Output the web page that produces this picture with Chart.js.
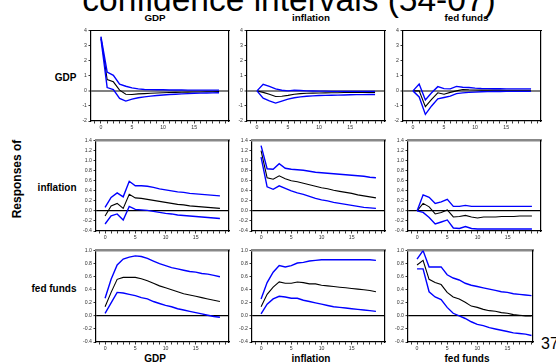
<!DOCTYPE html>
<html><head><meta charset="utf-8">
<script src="https://cdn.jsdelivr.net/npm/chart.js@4.4.1/dist/chart.umd.min.js"></script>
<style>
html,body{margin:0;padding:0;background:#fff;}
body{width:556px;height:363px;position:relative;overflow:hidden;font-family:"Liberation Sans",Arial,sans-serif;}
canvas{position:absolute;}
.t{position:absolute;white-space:nowrap;line-height:1;color:#000;}
.b{font-weight:bold;}
.c{transform:translate(-50%,-50%);}
</style></head><body>
<div class="t" style="left:289px;top:-17px;font-size:33.5px;transform:translateX(-50%);line-height:33.5px;">confidence intervals (54-07)</div>
<div class="t b c" style="left:155px;top:17.5px;font-size:9.8px;">GDP</div>
<div class="t b c" style="left:311px;top:17.5px;font-size:9.8px;">inflation</div>
<div class="t b c" style="left:466.5px;top:17.5px;font-size:9.8px;">fed funds</div>
<div class="t b" style="right:479.5px;top:78px;font-size:10px;transform:translateY(-50%);">GDP</div>
<div class="t b" style="right:479.5px;top:188px;font-size:10px;transform:translateY(-50%);">inflation</div>
<div class="t b" style="right:479.5px;top:289px;font-size:10px;transform:translateY(-50%);">fed funds</div>
<div class="t b" style="left:16.5px;top:179px;font-size:12px;transform:translate(-50%,-50%) rotate(-90deg);">Responses of</div>
<div class="t b c" style="left:155px;top:359px;font-size:10px;">GDP</div>
<div class="t b c" style="left:311px;top:359px;font-size:10px;">inflation</div>
<div class="t b c" style="left:467px;top:359px;font-size:10px;">fed funds</div>
<div class="t" style="left:541px;top:344px;font-size:16px;transform:translateY(-50%);">37</div>
<script>
// ---- data ----
const horizons = [0,1,2,3,4,5,6,7,8,9,10,11,12,13,14,15,16,17,18,19];
const shockNames = ["GDP","inflation","fed funds"];
const responseNames = ["GDP","inflation","fed funds"];
const xTickLabels = [0,5,10,15];
const xMinorTicks = [-1,0,1,2,3,4,5,6,7,8,9,10,11,12,13,14,15,16,17,18,19,20];
const yTicksGDP = [-2,-1,0,1,2,3,4];
const yTicksInflation = [-0.4,-0.2,0,0.2,0.4,0.6,0.8,1.0,1.2,1.4];
const yTicksFedFunds = [-0.4,-0.2,0,0.2,0.4,0.6,0.8,1.0];

// response of GDP
const gdp_to_gdp_mid = [3.55,0.75,0.6,0.05,-0.22,-0.24,-0.2,-0.18,-0.16,-0.14,-0.12,-0.11,-0.1,-0.09,-0.08,-0.07,-0.07,-0.06,-0.06,-0.05];
const gdp_to_gdp_up  = [3.6,1.25,1.03,0.44,0.31,0.2,0.13,0.09,0.08,0.07,0.07,0.06,0.06,0.06,0.05,0.05,0.05,0.05,0.05,0.05];
const gdp_to_gdp_lo  = [3.45,0.22,0.09,-0.5,-0.68,-0.55,-0.46,-0.4,-0.35,-0.31,-0.27,-0.24,-0.22,-0.2,-0.18,-0.16,-0.15,-0.14,-0.13,-0.12];
const gdp_to_inf_mid = [0,-0.1,-0.22,-0.37,-0.36,-0.3,-0.22,-0.18,-0.16,-0.15,-0.14,-0.13,-0.12,-0.12,-0.11,-0.11,-0.1,-0.1,-0.1,-0.1];
const gdp_to_inf_up  = [0,0.44,0.3,0.13,0.04,0.0,0.04,0.02,0.0,-0.01,-0.02,-0.02,-0.03,-0.03,-0.03,-0.03,-0.03,-0.03,-0.03,-0.03];
const gdp_to_inf_lo  = [0,-0.48,-0.66,-0.81,-0.68,-0.55,-0.46,-0.4,-0.36,-0.33,-0.31,-0.3,-0.29,-0.28,-0.27,-0.26,-0.25,-0.25,-0.24,-0.24];
const gdp_to_ff_mid  = [0,0,-1.05,-0.57,-0.13,-0.22,-0.1,0,0.09,0.07,0.06,0.05,0.05,0.05,0.05,0.04,0.04,0.04,0.04,0.04];
const gdp_to_ff_up   = [0,0.46,-0.6,-0.13,0.28,0.15,0.13,0.3,0.24,0.22,0.18,0.16,0.15,0.14,0.14,0.13,0.13,0.13,0.13,0.13];
const gdp_to_ff_lo   = [0,-0.4,-1.56,-1.0,-0.53,-0.44,-0.35,-0.18,-0.13,-0.1,-0.08,-0.06,-0.05,-0.04,-0.04,-0.03,-0.03,-0.03,-0.03,-0.03];
// response of inflation
const inf_to_gdp_mid = [-0.1,0.1,0.15,0.05,0.33,0.26,0.25,0.23,0.21,0.19,0.17,0.15,0.13,0.12,0.1,0.09,0.08,0.07,0.06,0.05];
const inf_to_gdp_up  = [0.07,0.27,0.36,0.28,0.59,0.5,0.5,0.49,0.47,0.44,0.42,0.4,0.38,0.37,0.35,0.34,0.33,0.32,0.31,0.3];
const inf_to_gdp_lo  = [-0.26,-0.1,-0.06,-0.18,0.09,0.03,0.02,0.01,-0.01,-0.03,-0.05,-0.06,-0.08,-0.09,-0.1,-0.11,-0.12,-0.13,-0.14,-0.15];
const inf_to_inf_mid = [1.2,0.66,0.63,0.7,0.64,0.6,0.58,0.55,0.52,0.49,0.46,0.44,0.41,0.39,0.37,0.35,0.32,0.3,0.28,0.26];
const inf_to_inf_up  = [1.3,0.84,0.83,0.94,0.85,0.83,0.82,0.81,0.79,0.77,0.76,0.75,0.74,0.73,0.72,0.71,0.7,0.69,0.67,0.66];
const inf_to_inf_lo  = [1.07,0.48,0.43,0.5,0.45,0.4,0.36,0.33,0.29,0.25,0.22,0.2,0.17,0.15,0.13,0.11,0.09,0.07,0.06,0.05];
const inf_to_ff_mid  = [0,0.15,0.08,-0.06,-0.03,0.02,-0.12,-0.11,-0.09,-0.12,-0.14,-0.12,-0.12,-0.12,-0.11,-0.11,-0.11,-0.1,-0.1,-0.1];
const inf_to_ff_up   = [0,0.32,0.27,0.15,0.18,0.23,0.09,0.09,0.11,0.09,0.09,0.09,0.09,0.09,0.09,0.09,0.09,0.09,0.09,0.09];
const inf_to_ff_lo   = [0,-0.03,-0.13,-0.26,-0.22,-0.18,-0.34,-0.35,-0.31,-0.35,-0.36,-0.36,-0.36,-0.36,-0.36,-0.36,-0.36,-0.36,-0.36,-0.36];
// response of fed funds
const ff_to_gdp_mid  = [0.14,0.36,0.56,0.59,0.59,0.59,0.57,0.54,0.5,0.46,0.43,0.4,0.37,0.34,0.32,0.3,0.28,0.26,0.24,0.22];
const ff_to_gdp_up   = [0.27,0.56,0.78,0.87,0.9,0.92,0.91,0.88,0.84,0.8,0.77,0.74,0.72,0.7,0.68,0.67,0.65,0.64,0.62,0.6];
const ff_to_gdp_lo   = [0.04,0.2,0.36,0.35,0.33,0.31,0.28,0.26,0.22,0.19,0.16,0.14,0.11,0.09,0.07,0.05,0.03,0.01,-0.01,-0.02];
const ff_to_inf_mid  = [0.14,0.33,0.44,0.52,0.5,0.5,0.52,0.51,0.49,0.49,0.47,0.46,0.45,0.44,0.43,0.42,0.41,0.4,0.39,0.37];
const ff_to_inf_up   = [0.26,0.51,0.67,0.77,0.75,0.77,0.81,0.82,0.84,0.85,0.86,0.86,0.86,0.86,0.86,0.86,0.86,0.86,0.86,0.85];
const ff_to_inf_lo   = [0.03,0.18,0.26,0.3,0.29,0.27,0.27,0.24,0.22,0.2,0.18,0.16,0.14,0.13,0.12,0.11,0.1,0.09,0.08,0.07];
const ff_to_ff_mid   = [0.78,0.85,0.56,0.51,0.48,0.36,0.29,0.26,0.21,0.15,0.13,0.1,0.08,0.07,0.05,0.04,0.02,0.01,0.0,0.0];
const ff_to_ff_up    = [0.87,1.0,0.75,0.75,0.75,0.63,0.58,0.55,0.5,0.47,0.45,0.43,0.41,0.39,0.37,0.36,0.34,0.33,0.32,0.31];
const ff_to_ff_lo    = [0.72,0.72,0.37,0.29,0.25,0.13,0.04,0.0,-0.04,-0.09,-0.13,-0.15,-0.18,-0.2,-0.22,-0.24,-0.26,-0.27,-0.28,-0.3];

// ---- layout (plot frame in page pixels) ----
const panels = [
  {L:91,R:229,T:30,B:121,ymin:-2,ymax:4,xmin:-1.6,xmax:20.6,yt:yTicksGDP,dec:0,zc:'#808080',zw:2,tc:'#000',tw:1,s:[gdp_to_gdp_mid,gdp_to_gdp_up,gdp_to_gdp_lo]},
  {L:247,R:385,T:30,B:121,ymin:-2,ymax:4,xmin:-1.6,xmax:20.6,yt:yTicksGDP,dec:0,zc:'#808080',zw:2,tc:'#000',tw:1,s:[gdp_to_inf_mid,gdp_to_inf_up,gdp_to_inf_lo]},
  {L:403,R:541,T:30,B:121,ymin:-2,ymax:4,xmin:-1.6,xmax:20.6,yt:yTicksGDP,dec:0,zc:'#808080',zw:2,tc:'#000',tw:1,s:[gdp_to_ff_mid,gdp_to_ff_up,gdp_to_ff_lo]},
  {L:95.7,R:229,T:140,B:231,ymin:-0.4,ymax:1.4,xmin:-1.5,xmax:20.5,yt:yTicksInflation,dec:1,zc:'#000',zw:1.2,tc:'#888',tw:2.5,s:[inf_to_gdp_mid,inf_to_gdp_up,inf_to_gdp_lo]},
  {L:251.7,R:385,T:140,B:231,ymin:-0.4,ymax:1.4,xmin:-1.5,xmax:20.5,yt:yTicksInflation,dec:1,zc:'#000',zw:1.2,tc:'#888',tw:2.5,s:[inf_to_inf_mid,inf_to_inf_up,inf_to_inf_lo]},
  {L:407.7,R:541,T:140,B:231,ymin:-0.4,ymax:1.4,xmin:-1.5,xmax:20.5,yt:yTicksInflation,dec:1,zc:'#000',zw:1.2,tc:'#888',tw:2.5,s:[inf_to_ff_mid,inf_to_ff_up,inf_to_ff_lo]},
  {L:95.7,R:229,T:250,B:342,ymin:-0.4,ymax:1.0,xmin:-1.5,xmax:20.5,yt:yTicksFedFunds,dec:1,zc:'#000',zw:1.2,tc:'#888',tw:2.5,s:[ff_to_gdp_mid,ff_to_gdp_up,ff_to_gdp_lo]},
  {L:251.7,R:385,T:250,B:342,ymin:-0.4,ymax:1.0,xmin:-1.5,xmax:20.5,yt:yTicksFedFunds,dec:1,zc:'#000',zw:1.2,tc:'#888',tw:2.5,s:[ff_to_inf_mid,ff_to_inf_up,ff_to_inf_lo]},
  {L:407.7,R:533,T:250,B:342,ymin:-0.4,ymax:1.0,xmin:-1.5,xmax:19.25,yt:yTicksFedFunds,dec:1,zc:'#000',zw:1.2,tc:'#888',tw:2.5,s:[ff_to_ff_mid,ff_to_ff_up,ff_to_ff_lo]}
];

const YW = 16, XH = 14, PT = 4, PR = 4;
const tickFont = {family:'"Liberation Sans", Arial, sans-serif', size:5.2};

panels.forEach((p) => {
  const cv = document.createElement('canvas');
  const w = Math.round(p.R - p.L + YW + PR), h = Math.round(p.B - p.T + PT + XH);
  cv.width = w; cv.height = h;
  cv.style.width = w + 'px'; cv.style.height = h + 'px';
  cv.style.left = (p.L - YW) + 'px'; cv.style.top = (p.T - PT) + 'px';
  document.body.appendChild(cv);
  const mk = (arr) => horizons.map((t, i) => ({x: t, y: arr[i]}));
  new Chart(cv, {
    type: 'line',
    data: {datasets: [
      {data: mk(p.s[1]), borderColor:'#0000ff', borderWidth:1.4},
      {data: mk(p.s[2]), borderColor:'#0000ff', borderWidth:1.4},
      {data: mk(p.s[0]), borderColor:'#000000', borderWidth:1.1}
    ]},
    options: {
      responsive:false, animation:false, devicePixelRatio:1,
      layout:{padding:{top:PT,right:PR,left:0,bottom:0}},
      plugins:{legend:{display:false}, tooltip:{enabled:false}},
      elements:{point:{radius:0}, line:{tension:0, fill:false}},
      scales:{
        x:{type:'linear', position:'bottom', min:p.xmin, max:p.xmax,
          afterBuildTicks:(s)=>{s.ticks = xMinorTicks.filter(v=>v>=p.xmin&&v<=p.xmax).map(v=>({value:v}));},
          afterFit:(s)=>{s.height = XH;},
          ticks:{autoSkip:false, maxRotation:0, padding:1, color:'#333', font:tickFont,
            callback:(v)=> xTickLabels.includes(v) ? String(v) : ''},
          grid:{drawOnChartArea:false, drawTicks:true, tickLength:2.5, tickColor:'#000', tickWidth:0.8},
          border:{display:true, color:'#000', width:1.2}},
        y:{type:'linear', position:'left', min:p.ymin, max:p.ymax,
          afterBuildTicks:(s)=>{s.ticks = p.yt.map(v=>({value:v}));},
          afterFit:(s)=>{s.width = YW;},
          ticks:{autoSkip:false, padding:1.5, color:'#333', font:tickFont,
            callback:(v)=> Number(v).toFixed(p.dec)},
          grid:{drawOnChartArea:true, drawTicks:true, tickLength:2.5, tickColor:'#000', tickWidth:0.8,
            color:(c)=> (c.tick && Math.abs(c.tick.value) < 1e-9) ? p.zc : 'rgba(0,0,0,0)',
            lineWidth:(c)=> (c.tick && Math.abs(c.tick.value) < 1e-9) ? p.zw : 1},
          border:{display:true, color:'#000', width:1.2}},
        xTop:{type:'linear', position:'top', min:0, max:1,
          afterFit:(s)=>{s.height = 0;},
          ticks:{display:false},
          grid:{drawOnChartArea:false, drawTicks:false},
          border:{display:true, color:p.tc, width:p.tw}},
        yRight:{type:'linear', position:'right', min:0, max:1,
          afterFit:(s)=>{s.width = 0;},
          ticks:{display:false},
          grid:{drawOnChartArea:false, drawTicks:false},
          border:{display:true, color:'#000', width:1.2}}
      }
    }
  });
});
</script>
</body></html>
